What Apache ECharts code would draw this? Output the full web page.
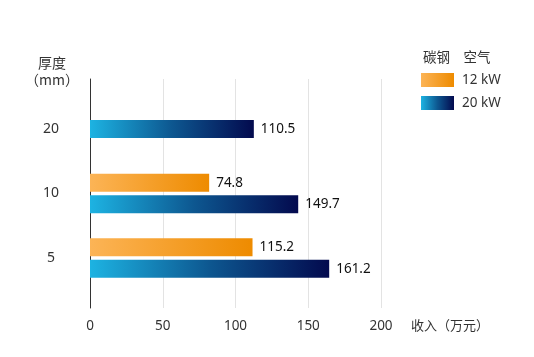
<!DOCTYPE html>
<html>
<head>
<meta charset="utf-8">
<script src="https://cdn.jsdelivr.net/npm/echarts@6/dist/echarts.min.js"></script>
<style>html,body{margin:0;padding:0;background:#fff;}#c{width:534px;height:357px;}</style>
</head>
<body>
<div id="c"></div>
<script>
// thickness categories (bottom to top)
const categories = ['5', '10', '20'];
// bar lengths as drawn in the picture (read against the x axis)
const series12kW = [111.7, 81.9, '-'];
const series20kW = [164.4, 143.1, '-'];
const series20kWTop = ['-', '-', 112.6];
// value labels as printed beside the bars
const labels12kW = ['115.2', '74.8', ''];
const labels20kW = ['161.2', '149.7', ''];
const labels20kWTop = ['', '', '110.5'];
const xTicks = [0, 50, 100, 150, 200];
const legendTitle = '碳钢　空气';

const font = '"Noto Sans CJK SC", "Noto Sans", sans-serif';
const numFont = '"Noto Sans", "Noto Sans CJK SC", sans-serif';
const orange = new echarts.graphic.LinearGradient(0, 0, 1, 0, [
  {offset: 0, color: '#fcb456'}, {offset: 1, color: '#ee8b00'}]);
const blue = new echarts.graphic.LinearGradient(0, 0, 1, 0, [
  {offset: 0, color: '#1db3e2'}, {offset: 0.5, color: '#0d5790'}, {offset: 1, color: '#030a4e'}]);

function labelCfg(arr) {
  return {show: true, position: 'right', distance: 7, color: '#111', fontSize: 13.5, fontFamily: numFont,
          formatter: p => arr[p.dataIndex]};
}

const chart = echarts.init(document.getElementById('c'));
chart.setOption({
  animation: false,
  textStyle: {fontFamily: font},
  title: {text: legendTitle, left: 418, top: 45, textStyle: {fontSize: 13.5, fontWeight: 'normal', color: '#333', fontFamily: font}},
  legend: {
    orient: 'vertical', left: 416, top: 68, itemWidth: 33, itemHeight: 14, itemGap: 9,
    icon: 'rect', data: ['12 kW', '20 kW'],
    textStyle: {fontSize: 13.5, color: '#333', fontFamily: numFont, padding: [0, 0, 0, 3]}
  },
  grid: [
    {left: 90, top: 79, width: 291, height: 229},
    {left: 90, top: 96.75, width: 291, height: 193.5}
  ],
  xAxis: [
    {gridIndex: 0, type: 'value', min: xTicks[0], max: xTicks[xTicks.length - 1], interval: 50,
     axisLine: {show: false}, axisTick: {show: false},
     splitLine: {lineStyle: {color: '#e3e3e3', width: 1}},
     axisLabel: {margin: 11, fontSize: 13.5, color: '#333', fontFamily: numFont},
     name: '收入（万元）', nameLocation: 'end', nameGap: 30,
     nameTextStyle: {fontSize: 13, color: '#333', fontFamily: font, verticalAlign: 'top', lineHeight: 34}},
    {gridIndex: 1, type: 'value', min: 0, max: 200, show: false}
  ],
  yAxis: [
    {gridIndex: 0, type: 'category', data: categories,
     axisLine: {show: true, lineStyle: {color: '#333', width: 1}}, axisTick: {show: false},
     axisLabel: {show: false}, splitLine: {show: false},
     name: '厚度\n（mm）', nameLocation: 'end', nameGap: -9,
     nameTextStyle: {fontSize: 14, color: '#333', fontFamily: font, align: 'center', lineHeight: 17, padding: [0, 76, 0, 0]}},
    {gridIndex: 1, type: 'category', data: categories,
     axisLine: {show: false}, axisTick: {show: false}, splitLine: {show: false},
     axisLabel: {margin: 39, align: 'center', fontSize: 14, color: '#333', fontFamily: numFont}},
    {gridIndex: 1, type: 'category', data: categories, show: false}
  ],
  series: [
    {name: '12 kW', type: 'bar', xAxisIndex: 1, yAxisIndex: 1, data: series12kW,
     barWidth: 18, barGap: '20%', itemStyle: {color: orange}, label: labelCfg(labels12kW)},
    {name: '20 kW', type: 'bar', xAxisIndex: 1, yAxisIndex: 1, data: series20kW,
     barWidth: 18, barGap: '20%', itemStyle: {color: blue}, label: labelCfg(labels20kW)},
    {name: '20 kW', type: 'bar', xAxisIndex: 1, yAxisIndex: 2, data: series20kWTop,
     barWidth: 18, itemStyle: {color: blue}, label: labelCfg(labels20kWTop)}
  ]
});
</script>
</body>
</html>
